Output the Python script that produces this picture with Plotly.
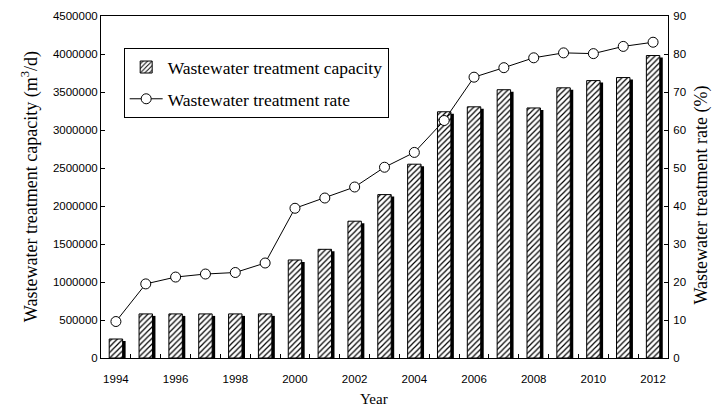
import plotly.graph_objects as go

years = list(range(1994, 2013))
capacity = [250000, 580000, 580000, 580000, 580000, 580000, 1290000, 1430000,
            1800000, 2150000, 2550000, 3240000, 3305000, 3530000, 3290000,
            3555000, 3650000, 3690000, 3980000]
rate = [9.6, 19.5, 21.3, 22.1, 22.5, 25.0, 39.4, 42.1, 45.0, 50.2, 54.1,
        62.5, 73.9, 76.4, 79.0, 80.3, 80.1, 82.0, 83.1]
label_years = [1994, 1996, 1998, 2000, 2002, 2004, 2006, 2008, 2010, 2012]

BAR_W = 0.45
SHADOW_DX = 0.1
SHADOW_DROP = 26000  # ~2px visual drop for the shadow

serif = "Liberation Serif"
sans = "Liberation Sans"

fig = go.Figure()

# shadow bars
fig.add_trace(go.Bar(
    x=years, y=[v - SHADOW_DROP for v in capacity],
    width=BAR_W, offset=-BAR_W / 2 + SHADOW_DX,
    marker=dict(color="black", line=dict(width=0)),
    showlegend=False, hoverinfo="skip",
))
# hatched bars
fig.add_trace(go.Bar(
    x=years, y=capacity, name="Wastewater treatment capacity",
    width=BAR_W, offset=-BAR_W / 2,
    marker=dict(color="white", line=dict(color="black", width=1),
                pattern=dict(shape="/", fgcolor="black", bgcolor="white",
                             size=4, solidity=0.3, fillmode="replace")),
    legendgroup="a",
))
fig.add_trace(go.Scatter(
    x=years, y=rate, name="Wastewater treatment rate", yaxis="y2",
    mode="lines+markers",
    line=dict(color="black", width=1),
    marker=dict(symbol="circle", size=10, color="white",
                line=dict(color="black", width=1)),
    legendgroup="b",
))

fig.update_layout(
    width=715, height=407,
    margin=dict(l=101, r=47, t=16, b=49, autoexpand=False),
    plot_bgcolor="white", paper_bgcolor="white",
    barmode="overlay",
    font=dict(family=sans, size=11.5, color="black"),
    showlegend=True,
    legend=dict(
        x=0.04, y=0.906, xanchor="left", yanchor="top",
        bordercolor="black", borderwidth=1, bgcolor="white",
        font=dict(family=serif, size=17.5, color="black"),
        itemwidth=33, tracegroupgap=6,
    ),
    xaxis=dict(
        range=[1993.5, 2012.5], automargin=False,
        tickvals=label_years, ticktext=[str(y) for y in label_years],
        ticks="", showgrid=False, zeroline=False,
        showline=True, linecolor="black", linewidth=1, mirror=True,
        tickfont=dict(family=sans, size=11.5),
        ticklabelstandoff=10,
        minor=dict(tickvals=[y + 0.5 for y in years[:-1]], ticks="inside",
                   ticklen=4, tickcolor="black", tickwidth=1, showgrid=False),
    ),
    yaxis=dict(
        range=[0, 4500000], dtick=500000, tickformat="d", automargin=False,
        ticks="inside", ticklen=4, tickcolor="black",
        showgrid=False, zeroline=False,
        showline=True, linecolor="black", linewidth=1,
        tickfont=dict(family=sans, size=11.5),
        ticklabelstandoff=0,
    ),
    yaxis2=dict(
        range=[0, 90], dtick=10, overlaying="y", side="right", automargin=False,
        ticks="inside", ticklen=4, tickcolor="black",
        showgrid=False, zeroline=False,
        showline=True, linecolor="black", linewidth=1,
        tickfont=dict(family=sans, size=11.5),
        ticklabelstandoff=2,
    ),
    annotations=[
        dict(text="Year", xref="paper", yref="paper", x=0.4815, y=-0.119,
             xanchor="center", yanchor="middle", showarrow=False,
             font=dict(family=serif, size=15, color="black")),
        dict(text="Wastewater treatment capacity (m<sup>3</sup>/d)",
             xref="paper", yref="paper", x=-0.125, y=0.5,
             xanchor="center", yanchor="middle", textangle=-90,
             showarrow=False,
             font=dict(family=serif, size=18, color="black")),
        dict(text="Wastewater treatment rate (%)",
             xref="paper", yref="paper", x=1.0594, y=0.477,
             xanchor="center", yanchor="middle", textangle=-90,
             showarrow=False,
             font=dict(family=serif, size=18, color="black")),
    ],
)

fig.write_html("out.html",
               config={"displayModeBar": False},
               post_script="document.body.style.margin='0';"
                           "document.body.style.overflow='hidden';")
